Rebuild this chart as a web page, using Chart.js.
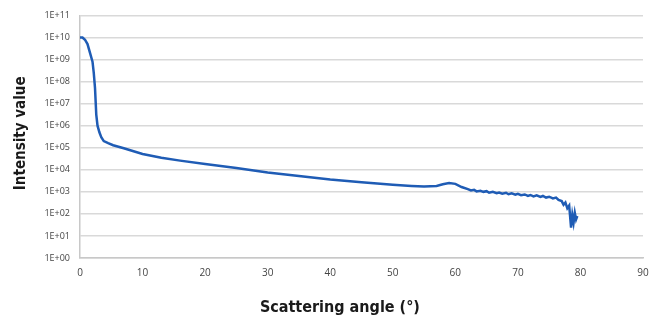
<!DOCTYPE html>
<html>
<head>
<meta charset="utf-8">
<script src="https://cdn.jsdelivr.net/npm/chart.js@4/dist/chart.umd.min.js"></script>
<style>
  html, body { margin: 0; padding: 0; background: #ffffff; }
  #wrap { width: 661px; height: 322px; position: relative; }
</style>
</head>
<body>
<div id="wrap"><canvas id="c" width="661" height="322"></canvas></div>
<script>
// Scattering angle (degrees)
const angles = [
  0, 0.4, 0.8, 1.2, 1.6, 2.0, 2.2, 2.4, 2.6, 2.8, 3.1, 3.4, 3.8, 4.5, 5.3, 7, 10, 13, 16, 20, 25,
  30, 35, 40, 45, 50, 53, 55, 57, 58, 59, 60, 61,
  62, 62.5, 63, 63.4, 64, 64.5, 65, 65.4, 66, 66.6, 67, 67.5, 68.1, 68.5, 69, 69.6, 70, 70.5,
  71.1, 71.6, 72, 72.5, 73, 73.6, 74, 74.5, 75, 75.6, 76.1, 76.5, 77, 77.3, 77.6, 77.9, 78.2,
  78.5, 78.7, 78.9, 79.1, 79.3, 79.5
];
// Intensity values
const intensity = [
  1.0e10, 1.0e10, 7.9e9, 5.0e9, 2.0e9, 8.0e8, 2.5e8, 5.0e7, 3.2e6, 1.0e6, 5.0e5, 3.0e5, 2.0e5, 1.6e5, 1.3e5, 9.5e4, 5.2e4, 3.5e4, 2.6e4, 1.85e4, 1.2e4,
  7.6e3, 5.2e3, 3.6e3, 2.75e3, 2.1e3, 1.85e3, 1.75e3, 1.85e3, 2.2e3, 2.5e3, 2.3e3, 1.65e3,
  1.32e3, 1.15e3, 1.23e3, 1.05e3, 1.12e3, 1.0e3, 1.07e3, 9.1e2, 1.0e3, 8.7e2, 9.3e2, 8.3e2, 9.1e2, 7.8e2, 8.5e2, 7.4e2, 8.1e2, 7.1e2,
  7.6e2, 6.6e2, 7.2e2, 6.2e2, 6.9e2, 5.9e2, 6.5e2, 5.5e2, 6.0e2, 5.0e2, 5.5e2, 4.3e2, 3.8e2, 2.6e2, 3.3e2, 1.8e2, 2.4e2,
  2.4e1, 9e1, 4e1, 1.1e2, 5.6e1, 8e1
];
const yTickValues = [1, 1e1, 1e2, 1e3, 1e4, 1e5, 1e6, 1e7, 1e8, 1e9, 1e10, 1e11];
const yTickLabels = ['1E+00','1E+01','1E+02','1E+03','1E+04','1E+05','1E+06','1E+07','1E+08','1E+09','1E+10','1E+11'];
const xTickValues = [0, 10, 20, 30, 40, 50, 60, 70, 80, 90];

const points = angles.map((a, i) => ({ x: a, y: intensity[i] }));
const titleFont = "'DejaVu Sans Condensed', 'DejaVu Sans', sans-serif";
const tickFont = "'Open Sans', 'Liberation Sans', sans-serif";

new Chart(document.getElementById('c'), {
  type: 'line',
  data: {
    datasets: [{
      data: points,
      borderColor: '#1f5cb5',
      borderWidth: 2.5,
      pointRadius: 0,
      tension: 0,
      fill: false
    }]
  },
  options: {
    responsive: false,
    animation: false,
    layout: { padding: { top: 14, right: 18, left: 0, bottom: 0 } },
    plugins: { legend: { display: false }, tooltip: { enabled: false } },
    scales: {
      x: {
        type: 'linear',
        min: 0, max: 90,
        afterFit: s => { s.height = 64; },
        afterBuildTicks: s => { s.ticks = xTickValues.map(v => ({ value: v })); },
        grid: { display: false, drawTicks: false },
        border: { display: true, color: '#c8c8c8', width: 1.5 },
        ticks: { padding: 9, color: '#444', font: { family: tickFont, size: 10 }, maxRotation: 0, callback: v => String(v) },
        title: {
          display: true,
          text: 'Scattering angle (°)\u2003\u2003\u2003',
          color: '#1a1a1a',
          font: { family: titleFont, size: 16, weight: 'bold' },
          padding: { top: 0, bottom: 5 }
        }
      },
      y: {
        type: 'logarithmic',
        min: 1, max: 1e11,
        afterFit: s => { s.width = 80; },
        afterBuildTicks: s => { s.ticks = yTickValues.map(v => ({ value: v })); },
        grid: { color: '#d9d9d9', lineWidth: 1.5, drawTicks: false },
        border: { display: true, color: '#c8c8c8', width: 1.5 },
        ticks: {
          padding: 10, color: '#444', font: { family: tickFont, size: 9 },
          callback: (v, i) => yTickLabels[i]
        },
        title: {
          display: true,
          text: '\u2002Intensity value',
          color: '#1a1a1a',
          font: { family: titleFont, size: 15, weight: 'bold' },
          padding: { top: 12, bottom: 0 }
        }
      }
    }
  }
});
</script>
</body>
</html>
